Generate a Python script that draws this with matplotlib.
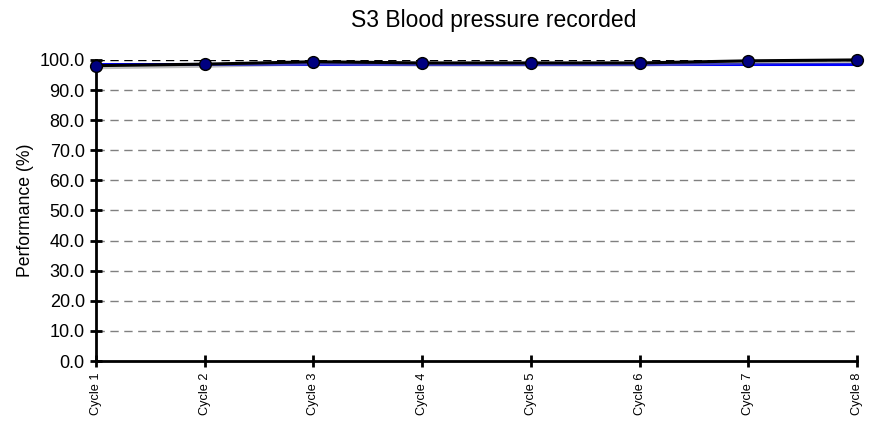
import matplotlib.pyplot as plt
import matplotlib.patheffects as pe
import numpy as np

plt.rcParams['font.family'] = ['Liberation Sans', 'DejaVu Sans']

cycles = ['Cycle 1', 'Cycle 2', 'Cycle 3', 'Cycle 4', 'Cycle 5', 'Cycle 6', 'Cycle 7', 'Cycle 8']
performance = [98.1, 98.6, 99.4, 99.0, 99.0, 99.0, 99.7, 100.0]
average = [98.7, 98.7, 98.7, 98.7, 98.7, 98.7, 98.7, 98.7]

fig = plt.figure(figsize=(8.72, 4.28), dpi=100)
ax = fig.add_axes([0.110, 0.1565, 0.873, 0.7035])

x = np.arange(len(cycles))
ax.plot(x, average, color='#0000ff', lw=2.2, zorder=3, clip_on=False)
ax.plot(x, performance, color='black', lw=2.2, zorder=4, clip_on=False,
        path_effects=[pe.SimpleLineShadow(offset=(1, -1.5), shadow_color='gray', alpha=0.5), pe.Normal()])
ax.plot(x, performance, ls='none', marker='o', markersize=8.5,
        markerfacecolor='#000080', markeredgecolor='black', markeredgewidth=1,
        zorder=5, clip_on=False)

ax.set_ylim(0, 100)
ax.set_xlim(0, len(cycles) - 1)
ax.set_yticks(np.arange(0, 101, 10))
ax.set_yticklabels([f'{v:.1f}' for v in np.arange(0, 101, 10)], fontsize=13)
ax.set_xticks(x)
ax.set_xticklabels(cycles, rotation=90, fontsize=9.2)

for v in range(10, 100, 10):
    ax.axhline(v, color='#808080', lw=1, ls=(0, (6, 4)), zorder=1)
ax.axhline(100, color='black', lw=1, ls=(0, (6, 4)), zorder=1)

for s in ['top', 'right']:
    ax.spines[s].set_visible(False)
for s in ['left', 'bottom']:
    ax.spines[s].set_linewidth(2)
ax.tick_params(axis='both', direction='inout', length=9, width=2)
ax.tick_params(axis='x', pad=4)

ax.set_ylabel('Performance (%)', fontsize=12.7)
ax.set_title('S3 Blood pressure recorded', fontsize=16.5, pad=24, x=0.522)

plt.savefig('out.png')
